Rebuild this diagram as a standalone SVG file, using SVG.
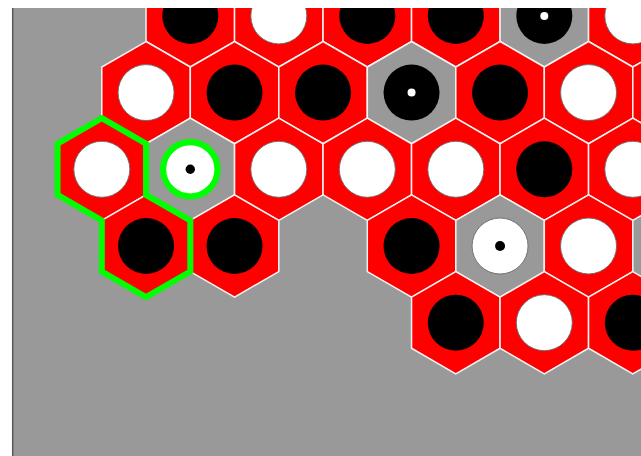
<svg xmlns="http://www.w3.org/2000/svg" xmlns:xlink="http://www.w3.org/1999/xlink" width="641" height="456" viewBox="0 0 641 456">
<style>
.red{fill:#ff0000;stroke:#f4f4f4;stroke-width:1.5}
.gry{fill:#999999;stroke:#f4f4f4;stroke-width:1.5}
.wc{fill:#ffffff;stroke:#6a6a6a;stroke-width:0.9}
.bc{fill:#000000}
.wd{fill:#ffffff}
.bd{fill:#000000}
.sel{fill:none;stroke:#00ff00;stroke-width:6}
</style>
<defs>
<polygon id="hex" points="0,-51.1 44.25,-25.55 44.25,25.55 0,51.1 -44.25,25.55 -44.25,-25.55"/>
<clipPath id="board"><rect x="12" y="8" width="629" height="448"/></clipPath>
</defs>
<rect x="0" y="0" width="641" height="456" fill="#ffffff"/>
<g clip-path="url(#board)">
<rect x="12" y="8" width="629" height="448" fill="#999999"/>
<g id="r1c1"><use xlink:href="#hex" class="red" x="190.3" y="15.9"/><circle class="bc" cx="190.3" cy="15.9" r="28"/></g>
<g id="r1c2"><use xlink:href="#hex" class="red" x="278.8" y="15.9"/><circle class="wc" cx="278.8" cy="15.9" r="28"/></g>
<g id="r1c3"><use xlink:href="#hex" class="red" x="367.3" y="15.9"/><circle class="bc" cx="367.3" cy="15.9" r="28"/></g>
<g id="r1c4"><use xlink:href="#hex" class="red" x="455.8" y="15.9"/><circle class="bc" cx="455.8" cy="15.9" r="28"/></g>
<g id="r1c5"><use xlink:href="#hex" class="gry" x="544.3" y="15.9"/><circle class="bc" cx="544.3" cy="15.9" r="28"/><circle class="wd" cx="544.3" cy="15.9" r="4"/></g>
<g id="r1c6"><use xlink:href="#hex" class="red" x="632.8" y="15.9"/><circle class="wc" cx="632.8" cy="15.9" r="28"/></g>

<g id="r2c1"><use xlink:href="#hex" class="red" x="146.05" y="92.6"/><circle class="wc" cx="146.05" cy="92.6" r="28"/></g>
<g id="r2c2"><use xlink:href="#hex" class="red" x="234.55" y="92.6"/><circle class="bc" cx="234.55" cy="92.6" r="28"/></g>
<g id="r2c3"><use xlink:href="#hex" class="red" x="323.05" y="92.6"/><circle class="bc" cx="323.05" cy="92.6" r="28"/></g>
<g id="r2c4"><use xlink:href="#hex" class="gry" x="411.55" y="92.6"/><circle class="bc" cx="411.55" cy="92.6" r="28"/><circle class="wd" cx="411.55" cy="92.6" r="4"/></g>
<g id="r2c5"><use xlink:href="#hex" class="red" x="500.05" y="92.6"/><circle class="bc" cx="500.05" cy="92.6" r="28"/></g>
<g id="r2c6"><use xlink:href="#hex" class="red" x="588.55" y="92.6"/><circle class="wc" cx="588.55" cy="92.6" r="28"/></g>
<g id="r2c7"><use xlink:href="#hex" class="red" x="677.05" y="92.6"/></g>

<g id="r3c1"><use xlink:href="#hex" class="red" x="101.8" y="169.3"/><circle class="wc" cx="101.8" cy="169.3" r="28"/></g>
<g id="r3c2"><use xlink:href="#hex" class="gry" x="190.3" y="169.3"/><circle cx="190.3" cy="169.3" r="27.5" fill="#ffffff"/><circle cx="190.3" cy="169.3" r="27.2" fill="none" stroke="#00ff00" stroke-width="6.2"/><circle class="bd" cx="190.3" cy="169.3" r="4.7"/></g>
<g id="r3c3"><use xlink:href="#hex" class="red" x="278.8" y="169.3"/><circle class="wc" cx="278.8" cy="169.3" r="28"/></g>
<g id="r3c4"><use xlink:href="#hex" class="red" x="367.3" y="169.3"/><circle class="wc" cx="367.3" cy="169.3" r="28"/></g>
<g id="r3c5"><use xlink:href="#hex" class="red" x="455.8" y="169.3"/><circle class="wc" cx="455.8" cy="169.3" r="28"/></g>
<g id="r3c6"><use xlink:href="#hex" class="red" x="544.3" y="169.3"/><circle class="bc" cx="544.3" cy="169.3" r="28"/></g>
<g id="r3c7"><use xlink:href="#hex" class="red" x="632.8" y="169.3"/><circle class="wc" cx="632.8" cy="169.3" r="28"/></g>

<g id="r4c1"><use xlink:href="#hex" class="red" x="146.05" y="246"/><circle class="bc" cx="146.05" cy="246" r="28"/></g>
<g id="r4c2"><use xlink:href="#hex" class="red" x="234.55" y="246"/><circle class="bc" cx="234.55" cy="246" r="28"/></g>
<g id="r4c4"><use xlink:href="#hex" class="red" x="411.55" y="246"/><circle class="bc" cx="411.55" cy="246" r="28"/></g>
<g id="r4c5"><use xlink:href="#hex" class="gry" x="500.05" y="246"/><circle class="wc" cx="500.05" cy="246" r="28" stroke="#555555"/><circle class="bd" cx="500.05" cy="246" r="5"/></g>
<g id="r4c6"><use xlink:href="#hex" class="red" x="588.55" y="246"/><circle class="wc" cx="588.55" cy="246" r="28"/></g>

<g id="r5c5"><use xlink:href="#hex" class="red" x="455.8" y="322.7"/><circle class="bc" cx="455.8" cy="322.7" r="28"/></g>
<g id="r5c6"><use xlink:href="#hex" class="red" x="544.3" y="322.7"/><circle class="wc" cx="544.3" cy="322.7" r="28"/></g>
<g id="r5c7"><use xlink:href="#hex" class="red" x="632.8" y="322.7"/><circle class="bc" cx="632.8" cy="322.7" r="28"/></g>

<g id="selection"><path class="sel" d="M101.8,118.2 L146.05,143.75 L146.05,194.9 L190.3,220.45 L190.3,271.55 L146.05,297.1 L101.8,271.55 L101.8,220.4 L57.55,194.85 L57.55,143.75 Z"/></g>
</g>
<line x1="12.7" y1="8" x2="12.7" y2="456" stroke="#5a5a5a" stroke-width="1.5"/>
</svg>
